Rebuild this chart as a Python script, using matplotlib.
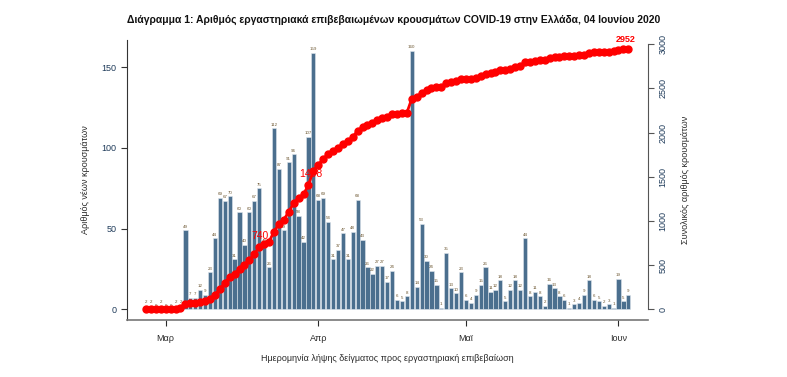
import numpy as np
import pandas as pd
import matplotlib
matplotlib.use("Agg")
import matplotlib.pyplot as plt

plt.rcParams['font.family'] = ['Liberation Sans', 'DejaVu Sans']

# daily new lab-confirmed cases, by sample date (from 26 Feb 2020)
start_date = '2020-02-26'
new_cases = [2, 2, 0, 2, 0, 0, 2, 2,
             49, 7, 7, 12, 9, 23, 44, 69, 67, 70,
             31, 60, 40, 60, 67, 75, 40, 26, 112, 87, 49,
             91, 96, 58, 42, 107, 159, 68, 69, 54, 31,
             37, 47, 31, 48, 68, 43, 26, 22, 27, 27,
             17, 24, 6, 5, 8, 160, 14, 53, 30, 24,
             15, 1, 35, 13, 10, 23, 6, 4, 9, 15,
             26, 11, 12, 18, 5, 12, 18, 12, 44, 8,
             11, 8, 2, 16, 13, 8, 6, 1, 3, 4,
             9, 18, 6, 5, 2, 3, 1, 19, 5, 9]
labelled_totals = [740, 1408]

month_ticks = ['2020-03-01', '2020-04-01', '2020-05-01', '2020-06-01']
month_labels = ['Μαρ', 'Απρ', 'Μαϊ', 'Ιουν']

dates = pd.date_range(start_date, periods=len(new_cases))
total = np.cumsum(new_cases)

bar_col = '#4b6f8e'
red = '#ff0000'
txt = '#2a2a2a'

fig = plt.figure(figsize=(7.87, 3.77), dpi=100)
ax = fig.add_axes([0.1614, 0.1512, 0.6620, 0.7427])
ax2 = ax.twinx()

ax.bar(dates, new_cases, width=0.86, color=bar_col, edgecolor='#dfe6ec', linewidth=0.4, zorder=2)
for d, v in zip(dates, new_cases):
    ax.annotate(str(v), (d, v), xytext=(0, 1.2), textcoords='offset points',
                ha='center', va='bottom', fontsize=3.2, color='#6b5530', zorder=3)

ax2.plot(dates, total, color=red, lw=2, marker='o', markersize=5, zorder=4)
offsets = {740: (3, 2), 1408: (2, 4)}
for d, t in zip(dates, total):
    if int(t) in labelled_totals:
        ax2.annotate(f'{t}', (d, t), xytext=offsets[int(t)], textcoords='offset points',
                     ha='right' if t == 740 else 'center', va='bottom',
                     fontsize=7.5, color=red, zorder=6)
ax2.annotate(f'{total[-1]}', (dates[-1], total[-1]), xytext=(-2, 3), textcoords='offset points',
             ha='center', va='bottom', fontsize=6.5, color=red, fontweight='bold', zorder=6)

x0 = dates[0]
ax.set_xlim(x0 - pd.Timedelta(days=3.86), x0 + pd.Timedelta(days=102))
ax.set_ylim(-6.6, 166.8)
ax2.set_ylim(-121, 3049)

ax.set_xticks(pd.to_datetime(month_ticks))
ax.set_xticklabels(month_labels)
ax.set_yticks([0, 50, 100, 150])
ax2.set_yticks(range(0, 3001, 500))

ax.tick_params(axis='x', labelsize=6.5, colors=txt, length=4, width=0.8, pad=6)
ax.tick_params(axis='y', labelsize=6.5, labelcolor='#1f3b5a', color='#333333', length=4, width=0.8)
ax2.tick_params(axis='y', labelsize=6.5, labelcolor='#1f3b5a', color='#555555', length=4, width=0.8, labelrotation=90)
for lbl in ax2.get_yticklabels():
    lbl.set_va('center')

ax.spines['top'].set_visible(False)
ax2.spines['top'].set_visible(False)
ax2.spines['left'].set_visible(False)
ax2.spines['bottom'].set_visible(False)
ax2.spines['right'].set_bounds(0, 3000)
ax2.spines['right'].set_color('#555555')
ax.spines['right'].set_visible(False)
ax.spines['left'].set_color('#333333')
ax.spines['bottom'].set_color('#777777')
ax.spines['bottom'].set_linewidth(1.2)

ax.set_ylabel('Αριθμός νέων κρουσμάτων', fontsize=6.5, color=txt, labelpad=8)
ax2.set_ylabel('Συνολικός αριθμός κρουσμάτων', fontsize=6.5, color=txt, labelpad=10)
ax.set_xlabel('Ημερομηνία λήψης δείγματος προς εργαστηριακή επιβεβαίωση', fontsize=6.5, color=txt, labelpad=8)

fig.text(0.5, 0.947, 'Διάγραμμα 1: Αριθμός εργαστηριακά επιβεβαιωμένων κρουσμάτων COVID-19 στην Ελλάδα, 04 Ιουνίου 2020',
         ha='center', va='center', fontsize=7.5, fontweight='bold', color='#111111')

fig.savefig('out.png', dpi=100)
